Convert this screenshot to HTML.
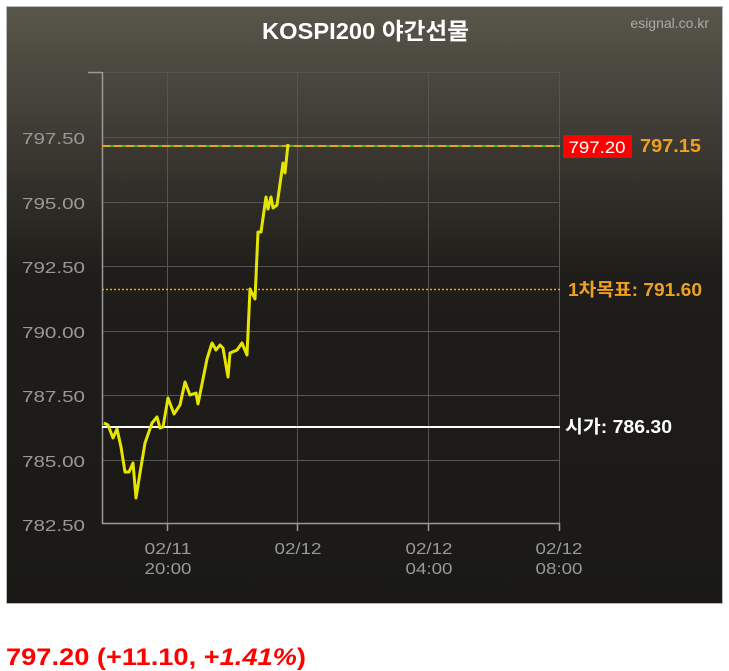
<!DOCTYPE html>
<html><head><meta charset="utf-8"><style>
body{margin:0;background:#fff;width:729px;height:671px;overflow:hidden;font-family:"Liberation Sans","Noto Sans CJK KR",sans-serif}
</style></head><body>
<svg width="729" height="671" style="position:absolute;left:0;top:0" font-family="Liberation Sans, Noto Sans CJK KR, sans-serif">
<defs><linearGradient id="bg" x1="0" y1="0" x2="0" y2="1">
<stop offset="0" stop-color="#59564b"/><stop offset="0.45" stop-color="#1f1d19"/><stop offset="1" stop-color="#1a1916"/></linearGradient></defs>
<rect x="6.5" y="6.5" width="716" height="597" fill="url(#bg)" stroke="#bbb" stroke-width="1"/>
<text x="262" y="39" font-size="23" font-weight="bold" fill="#fff" textLength="207" lengthAdjust="spacingAndGlyphs">KOSPI200 야간선물</text>
<text x="709" y="28" text-anchor="end" font-size="14" fill="#aaa">esignal.co.kr</text>
<g stroke="#555" stroke-width="1">
<line x1="102" y1="72.5" x2="560" y2="72.5"/>
<line x1="102" y1="137.5" x2="560" y2="137.5"/><line x1="102" y1="202.5" x2="560" y2="202.5"/>
<line x1="102" y1="266.5" x2="560" y2="266.5"/><line x1="102" y1="331.5" x2="560" y2="331.5"/>
<line x1="102" y1="395.5" x2="560" y2="395.5"/><line x1="102" y1="460.5" x2="560" y2="460.5"/>
<line x1="167.5" y1="72" x2="167.5" y2="523"/><line x1="297.5" y1="72" x2="297.5" y2="523"/>
<line x1="428.5" y1="72" x2="428.5" y2="523"/><line x1="559.5" y1="72" x2="559.5" y2="523"/>
</g>
<g stroke="#999" stroke-width="1.5">
<line x1="102.5" y1="72" x2="102.5" y2="524"/><line x1="88" y1="72.5" x2="102" y2="72.5"/>
<line x1="102" y1="523.5" x2="560" y2="523.5"/>
<line x1="167.5" y1="523" x2="167.5" y2="531"/><line x1="297.5" y1="523" x2="297.5" y2="531"/>
<line x1="428.5" y1="523" x2="428.5" y2="531"/><line x1="559.5" y1="523" x2="559.5" y2="531"/>
</g>
<g font-size="16" fill="#999">
<text x="22" y="144" textLength="63" lengthAdjust="spacingAndGlyphs">797.50</text>
<text x="22" y="209" textLength="63" lengthAdjust="spacingAndGlyphs">795.00</text>
<text x="22" y="273" textLength="63" lengthAdjust="spacingAndGlyphs">792.50</text>
<text x="22" y="338" textLength="63" lengthAdjust="spacingAndGlyphs">790.00</text>
<text x="22" y="402" textLength="63" lengthAdjust="spacingAndGlyphs">787.50</text>
<text x="22" y="467" textLength="63" lengthAdjust="spacingAndGlyphs">785.00</text>
<text x="22" y="531" textLength="63" lengthAdjust="spacingAndGlyphs">782.50</text>
</g>
<g font-size="16" fill="#999" text-anchor="middle">
<text x="168" y="554" textLength="47" lengthAdjust="spacingAndGlyphs">02/11</text><text x="168" y="574" textLength="47" lengthAdjust="spacingAndGlyphs">20:00</text>
<text x="298" y="554" textLength="47" lengthAdjust="spacingAndGlyphs">02/12</text>
<text x="429" y="554" textLength="47" lengthAdjust="spacingAndGlyphs">02/12</text><text x="429" y="574" textLength="47" lengthAdjust="spacingAndGlyphs">04:00</text>
<text x="559" y="554" textLength="47" lengthAdjust="spacingAndGlyphs">02/12</text><text x="559" y="574" textLength="47" lengthAdjust="spacingAndGlyphs">08:00</text>
</g>
<line x1="102" y1="146" x2="560" y2="146" stroke="#5a3" stroke-width="2"/>
<line x1="102" y1="146" x2="560" y2="146" stroke="#e8a317" stroke-width="2" stroke-dasharray="8,4"/>
<line x1="102" y1="289.5" x2="560" y2="289.5" stroke="#e8a317" stroke-width="1.5" stroke-dasharray="2,2"/>
<line x1="102" y1="427" x2="560" y2="427" stroke="#fff" stroke-width="2"/>
<polyline fill="none" stroke="#e5e500" stroke-width="3" stroke-linejoin="round" points="104,423 108,425 113,438 117,429 121,447 125,472 129,472 133,463 136,498 140,473 145,443 152,423 157,417 160,428 163,427 168,398 174,414 180,405 185,382 190,395 196,393 198,404 207,359 212,343 216,350 220,345 223,348 228,377 230,353 237,350 242,343 247,355 250,289 255,299 258,232 261,232 266,197 268,209 271,197 273,208 277,205 283,163 285,173 288,144"/>
<rect x="563" y="135" width="69" height="23" fill="#f00"/>
<text x="597" y="153" text-anchor="middle" font-size="17" fill="#fff" textLength="57" lengthAdjust="spacingAndGlyphs">797.20</text>
<text x="640" y="152" font-size="18" font-weight="bold" fill="#f0a020" textLength="61" lengthAdjust="spacingAndGlyphs">797.15</text>
<text x="568" y="296" font-size="18" font-weight="bold" fill="#f0a020" textLength="134" lengthAdjust="spacingAndGlyphs">1차목표: 791.60</text>
<text x="565" y="433" font-size="18" font-weight="bold" fill="#fff" textLength="107" lengthAdjust="spacingAndGlyphs">시가: 786.30</text>
<text x="6" y="665" font-size="24" font-weight="bold" fill="#f00" textLength="300" lengthAdjust="spacingAndGlyphs">797.20 (+11.10, +<tspan font-style="italic">1.41%</tspan>)</text>
</svg>
</body></html>
